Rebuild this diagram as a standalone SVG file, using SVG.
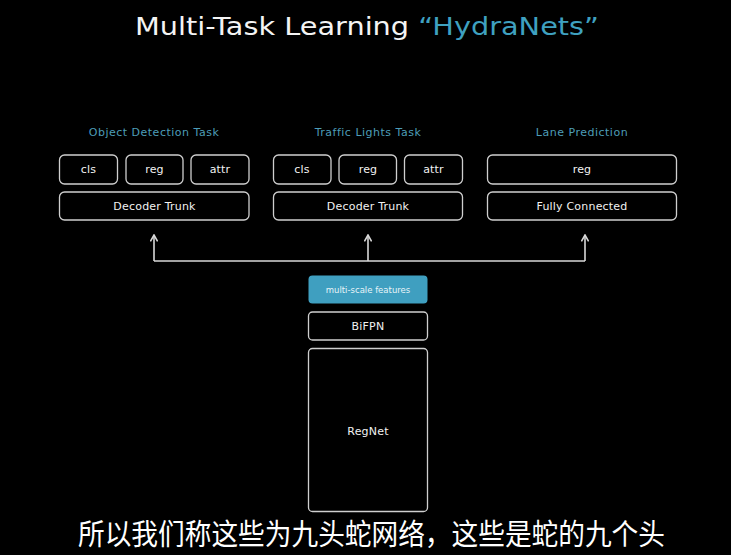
<svg xmlns="http://www.w3.org/2000/svg" width="731" height="555" viewBox="0 0 731 555">
<defs>
<marker id="ah" viewBox="0 0 10 10" refX="9" refY="5" markerWidth="8" markerHeight="8" markerUnits="userSpaceOnUse" orient="auto">
<path d="M1,0.5 L9,5 L1,9.5" fill="none" stroke="#d9d9d9" stroke-width="2"/>
</marker>
<style>
.box{fill:#000;stroke:#cfcfcf;stroke-width:1.3}
.lbl{font-family:"DejaVu Sans","Liberation Sans",sans-serif;font-size:11px;fill:#f2f2f2;text-anchor:middle;letter-spacing:0.2px}
.task{font-family:"DejaVu Sans","Liberation Sans",sans-serif;font-size:11px;fill:#4d9db8;text-anchor:middle;letter-spacing:0.5px}
.conn{fill:none;stroke:#d9d9d9;stroke-width:1.6}
</style>
</defs>
<rect x="0" y="0" width="731" height="555" fill="#000"/>
<text x="367" y="35" font-family="'DejaVu Sans','Liberation Sans',sans-serif" font-size="24.5" fill="#f4f4f4" text-anchor="middle" textLength="464" lengthAdjust="spacingAndGlyphs">Multi-Task Learning <tspan fill="#3fa1c0">“HydraNets”</tspan></text>

<g id="task-object">
<text class="task" x="154" y="136">Object Detection Task</text>
</g>
<g id="task-traffic">
<text class="task" x="368" y="136">Traffic Lights Task</text>
</g>
<g id="task-lane">
<text class="task" x="582" y="136">Lane Prediction</text>
</g>

<g id="od-cls"><rect class="box" x="59.5" y="155" width="58" height="29" rx="5"/><text class="lbl" x="88.5" y="173">cls</text></g>
<g id="od-reg"><rect class="box" x="126" y="155" width="57" height="29" rx="5"/><text class="lbl" x="154.5" y="173">reg</text></g>
<g id="od-attr"><rect class="box" x="191" y="155" width="58" height="29" rx="5"/><text class="lbl" x="220" y="173">attr</text></g>
<g id="od-trunk"><rect class="box" x="59.5" y="192" width="189.5" height="28" rx="5"/><text class="lbl" x="154.5" y="210">Decoder Trunk</text></g>

<g id="tl-cls"><rect class="box" x="273.5" y="155" width="57.5" height="29" rx="5"/><text class="lbl" x="302" y="173">cls</text></g>
<g id="tl-reg"><rect class="box" x="339" y="155" width="57.5" height="29" rx="5"/><text class="lbl" x="368" y="173">reg</text></g>
<g id="tl-attr"><rect class="box" x="404.5" y="155" width="58" height="29" rx="5"/><text class="lbl" x="433.5" y="173">attr</text></g>
<g id="tl-trunk"><rect class="box" x="273.5" y="192" width="189" height="28" rx="5"/><text class="lbl" x="368" y="210">Decoder Trunk</text></g>

<g id="lane-reg"><rect class="box" x="487.5" y="155" width="189" height="29" rx="5"/><text class="lbl" x="582" y="173">reg</text></g>
<g id="lane-fc"><rect class="box" x="487.5" y="192" width="189" height="28" rx="5"/><text class="lbl" x="582" y="210">Fully Connected</text></g>

<g id="connectors">
<path class="conn" d="M154,261 H585"/>
<path class="conn" d="M154,261 V235" marker-end="url(#ah)"/>
<path class="conn" d="M368,261 V235" marker-end="url(#ah)"/>
<path class="conn" d="M585,261 V235" marker-end="url(#ah)"/>
</g>

<g id="features"><rect x="308.5" y="275.5" width="119" height="28" rx="4" fill="#3f9fc0"/><text x="368" y="293" font-family="'DejaVu Sans','Liberation Sans',sans-serif" font-size="8.5" fill="#e8f4f8" text-anchor="middle">multi-scale features</text></g>
<g id="bifpn"><rect class="box" x="308.5" y="312" width="119" height="28" rx="4"/><text class="lbl" x="368" y="330">BiFPN</text></g>
<g id="regnet"><rect class="box" x="308.5" y="348.5" width="119" height="163" rx="4"/><text class="lbl" x="368" y="435">RegNet</text></g>

<text x="78" y="545" font-family="'Noto Sans CJK SC',sans-serif" font-size="29" fill="#ffffff" textLength="587" lengthAdjust="spacingAndGlyphs">所以我们称这些为九头蛇网络，这些是蛇的九个头</text>
</svg>
